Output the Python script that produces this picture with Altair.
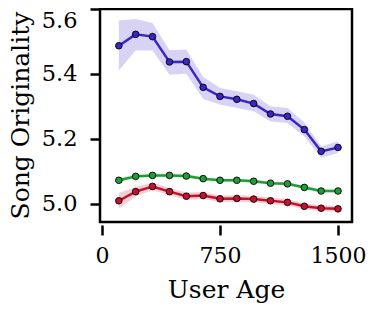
import altair as alt
import pandas as pd

ages = [107, 214, 321, 429, 536, 643, 750, 857, 964, 1071, 1179, 1286, 1393, 1500]

blue_mean = [5.487, 5.522, 5.515, 5.437, 5.438, 5.359, 5.331, 5.322, 5.309, 5.277, 5.270, 5.229, 5.162, 5.174]
blue_lo = [5.411, 5.472, 5.472, 5.398, 5.401, 5.323, 5.306, 5.295, 5.285, 5.254, 5.249, 5.208, 5.142, 5.157]
blue_hi = [5.565, 5.569, 5.557, 5.473, 5.475, 5.391, 5.357, 5.347, 5.336, 5.301, 5.295, 5.251, 5.177, 5.193]

green_mean = [5.073, 5.085, 5.088, 5.088, 5.086, 5.078, 5.073, 5.073, 5.070, 5.064, 5.062, 5.051, 5.040, 5.040]
green_lo = [5.066, 5.079, 5.082, 5.082, 5.080, 5.073, 5.068, 5.068, 5.065, 5.059, 5.057, 5.046, 5.035, 5.035]
green_hi = [5.080, 5.091, 5.094, 5.094, 5.092, 5.083, 5.078, 5.078, 5.075, 5.069, 5.067, 5.056, 5.045, 5.045]

red_mean = [5.010, 5.038, 5.054, 5.038, 5.024, 5.026, 5.016, 5.017, 5.015, 5.010, 5.005, 4.993, 4.987, 4.985]
red_lo = [4.986, 5.023, 5.042, 5.027, 5.013, 5.015, 5.006, 5.007, 5.005, 5.000, 4.995, 4.984, 4.978, 4.976]
red_hi = [5.034, 5.053, 5.066, 5.049, 5.035, 5.037, 5.026, 5.027, 5.025, 5.020, 5.015, 5.002, 4.996, 4.994]

series_names = ["blue", "green", "red"]
series_colors = ["#3a25c6", "#1f9e38", "#c8102e"]

rows = []
for name, m, lo, hi in [("blue", blue_mean, blue_lo, blue_hi),
                        ("green", green_mean, green_lo, green_hi),
                        ("red", red_mean, red_lo, red_hi)]:
    for a, mv, lv, hv in zip(ages, m, lo, hi):
        rows.append({"age": a, "series": name, "mean": mv, "lo": lv, "hi": hv})
df = pd.DataFrame(rows)

FONT = "DejaVu Serif"

xscale = alt.Scale(domain=[-12.7, 1589], nice=False, zero=False)
yscale = alt.Scale(domain=[4.9446, 5.6], nice=False, zero=False)
color = alt.Color("series:N", scale=alt.Scale(domain=series_names, range=series_colors), legend=None)

xaxis = alt.Axis(values=[0, 750, 1500], format="d", title="User Age", domain=False, grid=False,
                 tickSize=10, tickWidth=2.5, tickColor="black", offset=3,
                 labelFont=FONT, labelFontSize=22, labelColor="black", labelPadding=10,
                 labelFlush=False,
                 titleFont=FONT, titleFontSize=25, titleFontWeight="normal", titleColor="black",
                 titlePadding=11)
yaxis = alt.Axis(values=[5.0, 5.2, 5.4, 5.6], format=".1f", title="Song Originality",
                 domain=False, grid=False, tickSize=10, tickWidth=2.5, tickColor="black",
                 labelFont=FONT, labelFontSize=22.5, labelColor="black", labelPadding=13,
                 labelFlush=2,
                 titleFont=FONT, titleFontSize=25, titleFontWeight="normal", titleColor="black",
                 titleX=-67, titleY=106, titleAngle=-90, titleBaseline="bottom", titleAlign="center")

base = alt.Chart(df)

band = base.mark_area(opacity=0.2).encode(
    x=alt.X("age:Q", scale=xscale, axis=xaxis),
    y=alt.Y("lo:Q", scale=yscale, axis=yaxis),
    y2="hi:Q",
    color=color,
)
line = base.mark_line(strokeWidth=2.5).encode(
    x=alt.X("age:Q", scale=xscale),
    y=alt.Y("mean:Q", scale=yscale),
    color=color,
)
pts = base.mark_point(filled=True, size=44, opacity=1, stroke="black", strokeWidth=0.9).encode(
    x=alt.X("age:Q", scale=xscale),
    y=alt.Y("mean:Q", scale=yscale),
    fill=alt.Fill("series:N", scale=alt.Scale(domain=series_names, range=series_colors), legend=None),
)

chart = alt.layer(band, line, pts).properties(
    width=252, height=213,
    background="white",
    autosize=alt.AutoSizeParams(type="none"),
    padding={"left": 92, "top": 1, "right": 15, "bottom": 85},
).configure_view(stroke="black", strokeWidth=2.5)

chart.save("out.html", embed_options={"renderer": "svg", "actions": False})
